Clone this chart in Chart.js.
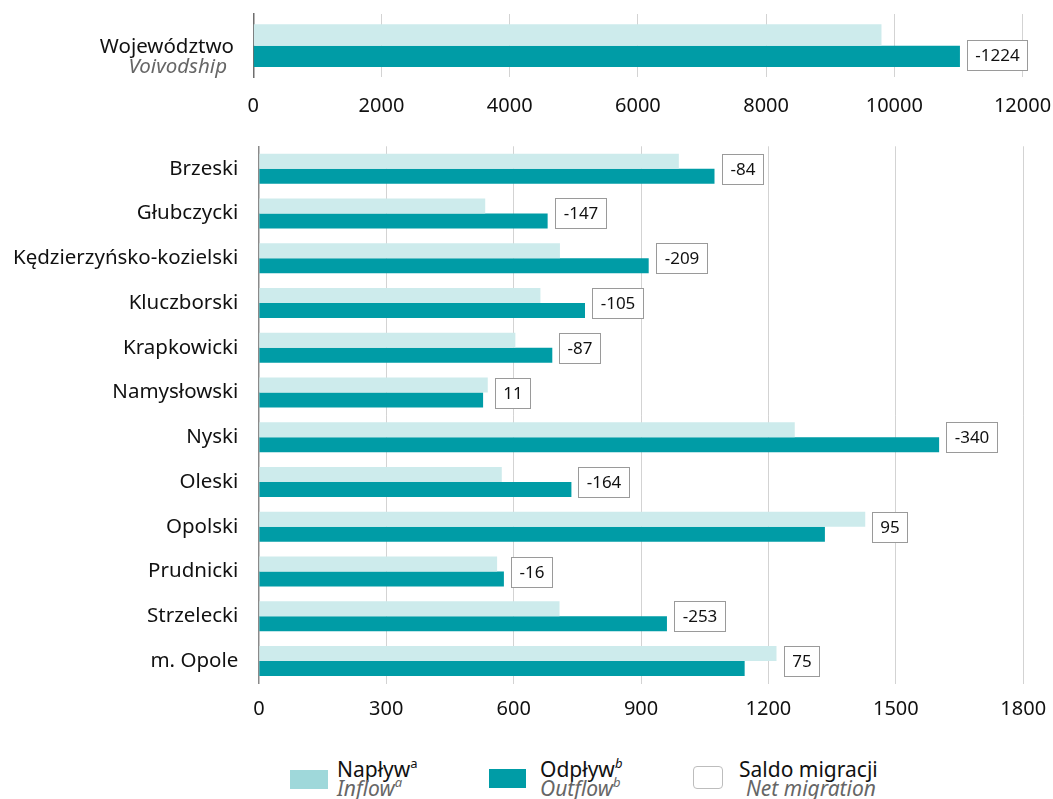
<!DOCTYPE html>
<html>
<head>
<meta charset="utf-8">
<script src="https://cdn.jsdelivr.net/npm/chart.js@4"></script>
<style>
  html, body { margin:0; padding:0; background:#fff; width:1053px; height:799px; overflow:hidden; }
  canvas { position:absolute; left:0; }
  .lg { position:absolute; font-family:"Noto Sans", sans-serif; font-size:21px; line-height:18.5px; color:#111; white-space:nowrap; }
  .lg .it { font-style:italic; color:#666; }
  .lg sup { font-size:13px; line-height:0; position:relative; top:-1px; }
  .sw { position:absolute; }
</style>
</head>
<body>
<canvas id="c1" width="1053" height="130" style="top:0;width:1053px;height:130px"></canvas>
<canvas id="c2" width="1053" height="600" style="top:130px;width:1053px;height:600px"></canvas>
<div id="legend"></div>
<script>
// ---- data ----
const totalLabel = ['Województwo', 'Voivodship'];
const totalInflow = [9800];
const totalOutflow = [11024];
const totalNet = [-1224];
const topTicks = [0, 2000, 4000, 6000, 8000, 10000, 12000];

const categories = ['Brzeski', 'Głubczycki', 'Kędzierzyńsko-kozielski', 'Kluczborski', 'Krapkowicki',
  'Namysłowski', 'Nyski', 'Oleski', 'Opolski', 'Prudnicki', 'Strzelecki', 'm. Opole'];
const inflow  = [989, 533, 709, 663, 604, 539, 1262, 572, 1428, 561, 708, 1219];
const outflow = [1073, 680, 918, 768, 691, 528, 1602, 736, 1333, 577, 961, 1144];
const net     = [-84, -147, -209, -105, -87, 11, -340, -164, 95, -16, -253, 75];
const bottomTicks = [0, 300, 600, 900, 1200, 1500, 1800];

const legendMain = ['Napływ', 'Odpływ', 'Saldo migracji'];
const legendSub  = ['Inflow', 'Outflow', 'Net migration'];
const legendSup  = ['a', 'b', ''];

// ---- styles ----
const FONT = '"Noto Sans", sans-serif';
const C_IN = '#cdebec', C_OUT = '#009ca6', C_IN_LG = '#9fd8da';

function makeBoxPlugin(values, offsetY) {
  return {
    id: 'netBoxes',
    afterDatasetsDraw(chart) {
      const ctx = chart.ctx;
      const m0 = chart.getDatasetMeta(0), m1 = chart.getDatasetMeta(1);
      ctx.save();
      ctx.font = '17px ' + FONT;
      values.forEach((v, i) => {
        const b0 = m0.data[i], b1 = m1.data[i];
        const xEnd = Math.max(b0.x, b1.x);
        const yc = (b0.y + b1.y) / 2 + offsetY;
        const txt = String(v);
        const tw = ctx.measureText(txt).width;
        const w = Math.round(tw + 16), h = 30;
        const x = Math.round(xEnd + 7) + 0.5, y = Math.round(yc - h / 2) + 0.5;
        ctx.fillStyle = '#fff';
        ctx.fillRect(x, y, w, h);
        ctx.strokeStyle = '#9a9a9a';
        ctx.lineWidth = 1;
        ctx.strokeRect(x, y, w, h);
        ctx.fillStyle = '#111';
        ctx.textAlign = 'center';
        ctx.textBaseline = 'middle';
        ctx.fillText(txt, x + w / 2, y + h / 2 + 1);
      });
      ctx.restore();
    }
  };
}

const topLabelPlugin = {
  id: 'topLabel',
  afterDraw(chart) {
    const ctx = chart.ctx;
    const ys = chart.scales.y.getPixelForValue(0);
    ctx.save();
    ctx.textAlign = 'right';
    ctx.textBaseline = 'alphabetic';
    ctx.fillStyle = '#111';
    ctx.font = '20.5px ' + FONT;
    ctx.fillText(totalLabel[0], 234, ys + 7.5);
    ctx.fillStyle = '#666';
    ctx.font = 'italic 20.5px ' + FONT;
    ctx.fillText(totalLabel[1], 227, ys + 27);
    ctx.restore();
  }
};

function zeroPad(s) { s.paddingLeft = 0; s.paddingRight = 0; s.paddingTop = 0; s.paddingBottom = 0; }

function xScale(ticks, pad, height) {
  return {
    type: 'linear',
    min: ticks[0],
    max: ticks[ticks.length - 1],
    afterBuildTicks: s => { s.ticks = ticks.map(v => ({ value: v })); },
    ticks: { font: { family: FONT, size: 20 }, color: '#111', padding: pad, maxRotation: 0,
             callback: v => String(v) },
    grid: { color: '#d3d3d3', lineWidth: 1, drawTicks: false },
    border: { display: false },
    afterFit: s => { s.height = height; zeroPad(s); }
  };
}

// ---- top chart ----
new Chart(document.getElementById('c1'), {
  type: 'bar',
  data: {
    labels: [totalLabel[0]],
    datasets: [
      { label: 'Napływ', data: totalInflow, backgroundColor: C_IN },
      { label: 'Odpływ', data: totalOutflow, backgroundColor: C_OUT }
    ]
  },
  options: {
    indexAxis: 'y',
    responsive: false,
    animation: false,
    events: [],
    layout: { padding: { top: 14, right: 30.5, left: 0, bottom: 0 } },
    datasets: { bar: { categoryPercentage: 0.675, barPercentage: 1.0 } },
    plugins: { legend: { display: false }, tooltip: { enabled: false } },
    scales: {
      x: xScale(topTicks, 16.5, 130 - 77.3),
      y: {
        ticks: { display: false },
        grid: { display: false, drawTicks: false },
        border: { display: true, color: '#6e6e6e', width: 1.5 },
        afterFit: s => { s.width = 253.3; zeroPad(s); }
      }
    }
  },
  plugins: [makeBoxPlugin(totalNet, 9), topLabelPlugin]
});

// ---- bottom chart ----
new Chart(document.getElementById('c2'), {
  type: 'bar',
  data: {
    labels: categories,
    datasets: [
      { label: 'Napływ', data: inflow, backgroundColor: C_IN },
      { label: 'Odpływ', data: outflow, backgroundColor: C_OUT }
    ]
  },
  options: {
    indexAxis: 'y',
    responsive: false,
    animation: false,
    events: [],
    layout: { padding: { top: 16.3, right: 29.8, left: 0, bottom: 0 } },
    datasets: { bar: { categoryPercentage: 0.67, barPercentage: 1.0 } },
    plugins: { legend: { display: false }, tooltip: { enabled: false } },
    scales: {
      x: xScale(bottomTicks, 13.5, 600 - 553.5),
      y: {
        ticks: { font: { family: FONT, size: 20.5 }, color: '#111', padding: 20.6 },
        grid: { display: false, drawTicks: false },
        border: { display: true, color: '#8a8a8a', width: 1.5 },
        afterFit: s => { s.width = 258.9; zeroPad(s); }
      }
    }
  },
  plugins: [makeBoxPlugin(net, 0)]
});

// ---- legend (HTML) ----
const lgPos = [
  { sw: [290, 770, 38, 19], tx: [337, 760], sub: 0 },
  { sw: [489, 769, 37, 19], tx: [540, 760], sub: 0 },
  { sw: [692.5, 766, 30, 23], tx: [739, 760], sub: 7 }
];
const lgSw = [
  'background:' + C_IN_LG,
  'background:' + C_OUT,
  'background:#fff;border:1px solid #bdbdbd;border-radius:4px;box-sizing:border-box'
];
const lg = document.getElementById('legend');
legendMain.forEach((t, i) => {
  const p = lgPos[i];
  const sw = document.createElement('div');
  sw.className = 'sw';
  sw.style.cssText = `left:${p.sw[0]}px;top:${p.sw[1]}px;width:${p.sw[2]}px;height:${p.sw[3]}px;` + lgSw[i];
  lg.appendChild(sw);
  const tx = document.createElement('div');
  tx.className = 'lg';
  tx.style.left = p.tx[0] + 'px';
  tx.style.top = p.tx[1] + 'px';
  const sup = legendSup[i] ? `<sup${i === 1 ? ' style="font-style:italic"' : ''}>${legendSup[i]}</sup>` : '';
  const sup2 = legendSup[i] ? `<sup>${legendSup[i]}</sup>` : '';
  tx.innerHTML = `<div>${t}${sup}</div><div class="it" style="padding-left:${p.sub}px">${legendSub[i]}${sup2}</div>`;
  lg.appendChild(tx);
});
</script>
</body>
</html>
